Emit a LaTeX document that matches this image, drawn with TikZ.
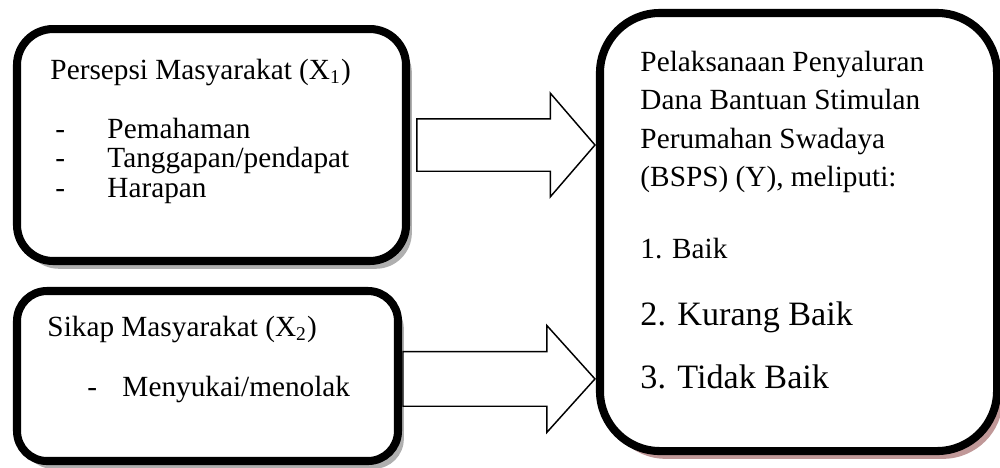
\documentclass[tikz,border=0pt]{standalone}
\usepackage{fontspec}
\setmainfont{Liberation Serif}
\usetikzlibrary{shapes.arrows}
\usetikzlibrary{shadows}

\definecolor{bayanganabu}{RGB}{175,175,175}
\definecolor{bayanganmerah}{RGB}{192,152,152}

\tikzset{
  kotak/.style={draw, line width=3.3pt, fill=white, inner sep=0pt},
  bayangan/.style={drop shadow={shadow xshift=2.4pt, shadow yshift=-3.2pt, fill=#1, opacity=1}},
  teks/.style={anchor=base west, inner sep=0pt, font=\fontsize{12}{14}\selectfont},
  teksbesar/.style={teks, font=\fontsize{14}{16}\selectfont},
  panah/.style={draw, line width=0.6pt, fill=white, single arrow, inner xsep=0pt, anchor=tip}
}

\begin{document}
\begin{tikzpicture}[x=0.41pt,y=-0.41pt]
\useasboundingbox (0,0) rectangle (1000,467);

% kotak variabel
\node[kotak, bayangan=bayanganabu, rounded corners=14.8pt, minimum width=159.5pt, minimum height=95.1pt] (persepsi) at (211.5,145) {};
\node[kotak, bayangan=bayanganabu, rounded corners=12.3pt, minimum width=156.2pt, minimum height=69.7pt] (sikap) at (207.5,376) {};
\node[kotak, bayangan=bayanganmerah, rounded corners=24.6pt, minimum width=162.8pt, minimum height=179.6pt] (hasil) at (798.5,232) {};

% panah
\node[panah, minimum height=73pt, inner ysep=10.45pt, single arrow head extend=10.5pt, single arrow tip angle=98.5] (panah1) at (persepsi.east -| hasil.west) {};
\node[panah, minimum height=78.7pt, inner ysep=10.9pt, single arrow head extend=10.7pt, single arrow tip angle=96] (panah2) at ([yshift=-1.2pt]sikap.east -| hasil.west) {};

% isi kotak X1
\node[teks] (judul1) at (50,79) {Persepsi Masyarakat (X\textsubscript{1})};
\foreach \isi [count=\i] in {Pemahaman, Tanggapan/pendapat, Harapan} {
  \node[teks] (strip\i) at (55,108.5+29.5*\i) {-};
  \node[teks] (butir\i) at (107,108.5+29.5*\i) {\isi};
}

% isi kotak X2
\node[teks] (judul2) at (47,336) {Sikap Masyarakat (X\textsubscript{2})};
\node[teks] (strip4) at (87,396) {-};
\node[teks] (butir4) at (122,396) {Menyukai/menolak};

% isi kotak Y
\foreach \baris [count=\i] in {Pelaksanaan Penyaluran, Dana Bantuan Stimulan, Perumahan Swadaya, {(BSPS) (Y), meliputi:}} {
  \node[teks] (baris\i) at (640,32.5+38.5*\i) {\baris};
}
\node[teks] (baik) at (640,258) {1. Baik};
\node[teksbesar] (kurang) at (640,325) {2. Kurang Baik};
\node[teksbesar] (tidak) at (640,388) {3. Tidak Baik};
\end{tikzpicture}
\end{document}
